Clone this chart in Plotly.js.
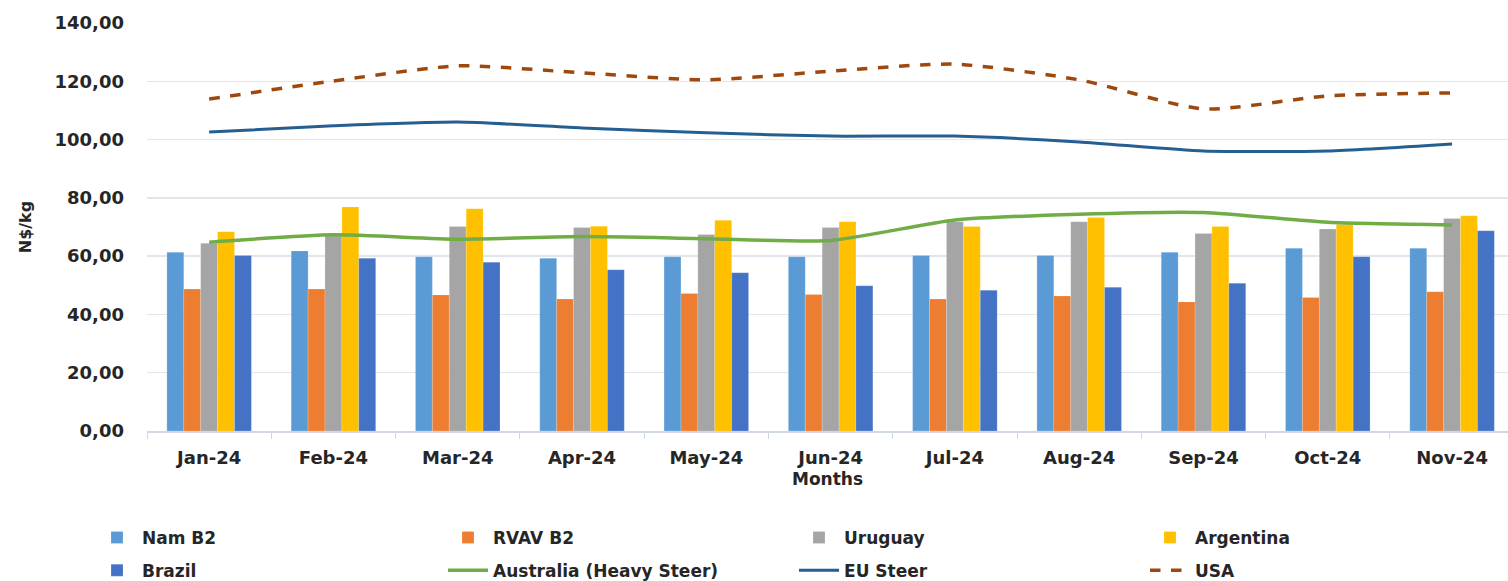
<!DOCTYPE html>
<html>
<head>
<meta charset="utf-8">
<script src="https://cdn.plot.ly/plotly-3.0.1.min.js"></script>
<style>html,body{margin:0;padding:0;background:#fff;}#chart{width:1508px;height:581px;}</style>
</head>
<body>
<div id="chart"></div>
<script>
const months = ["Jan-24","Feb-24","Mar-24","Apr-24","May-24","Jun-24","Jul-24","Aug-24","Sep-24","Oct-24","Nov-24"];
const namB2     = [61.3, 61.8, 59.8, 59.3, 59.8, 59.8, 60.2, 60.2, 61.3, 62.7, 62.7];
const rvavB2    = [48.7, 48.7, 46.7, 45.3, 47.2, 46.8, 45.3, 46.3, 44.3, 45.8, 47.8];
const uruguay   = [64.4, 67.0, 70.2, 69.8, 67.4, 69.8, 71.8, 71.8, 67.8, 69.3, 72.9];
const argentina = [68.4, 76.9, 76.3, 70.3, 72.3, 71.8, 70.2, 73.3, 70.2, 70.9, 73.9];
const brazil    = [60.2, 59.3, 57.9, 55.3, 54.3, 49.8, 48.3, 49.3, 50.7, 59.8, 68.7];
const australia = [64.8, 67.3, 65.8, 66.7, 66.0, 65.4, 72.4, 74.4, 75.0, 71.6, 70.7];
const euSteer   = [102.6, 104.7, 106.0, 104.0, 102.3, 101.2, 101.2, 99.2, 96.1, 96.1, 98.5];
const usa       = [113.9, 120.1, 125.3, 122.9, 120.5, 123.5, 125.9, 120.5, 110.5, 115.0, 116.0];
const yTicks = [0,20,40,60,80,100,120,140];
const yTickText = ["0,00","20,00","40,00","60,00","80,00","100,00","120,00","140,00"];

const FONT = "DejaVu Sans, Arial, sans-serif";
const TXT = "#262626";

function bar(name, y, color, leg) {
  return {type:"bar", name:name, x:months, y:y, legend:leg,
    marker:{color:color, line:{color:"rgba(255,255,255,0.35)", width:0.5}},
    hoverinfo:"y+name"};
}
function line(name, y, color, width, dash, leg) {
  return {type:"scatter", mode:"lines", name:name, x:months, y:y, legend:leg,
    line:{color:color, width:width, dash:dash, shape:"spline", smoothing:0.6}};
}

const data = [
  bar("Nam B2", namB2, "#5B9BD5", "legend"),
  bar("RVAV B2", rvavB2, "#ED7D31", "legend"),
  bar("Uruguay", uruguay, "#A5A5A5", "legend"),
  bar("Argentina", argentina, "#FFC000", "legend"),
  bar("Brazil", brazil, "#4472C4", "legend2"),
  line("Australia (Heavy Steer)", australia, "#70AD47", 3.5, "solid", "legend2"),
  line("EU Steer", euSteer, "#255E91", 3, "solid", "legend2"),
  line("USA", usa, "#9E480E", 3.5, "dash", "legend2")
];

const legFont = {family:FONT, size:17, color:TXT, weight:"bold"};
const layout = {
  width:1508, height:581,
  margin:{l:147, r:0, t:23, b:150, autoexpand:false},
  paper_bgcolor:"#ffffff", plot_bgcolor:"#ffffff",
  barmode:"group", bargap:0.32, bargroupgap:0,
  font:{family:FONT, color:TXT},
  showlegend:true,
  xaxis:{
    type:"category", range:[-0.5, 10.45],
    tickfont:{family:FONT, size:18, color:TXT, weight:"bold"},
    ticks:"outside", tickson:"boundaries", ticklen:6, tickcolor:"#d0d7e0",
    ticklabelstandoff:10,
    showline:true, linecolor:"#d0d7e0", linewidth:1.5,
    showgrid:false, zeroline:false,
    title:{text:"Months", font:{family:FONT, size:17, color:TXT, weight:"bold"}, standoff:6}
  },
  yaxis:{
    range:[0,140], tickvals:yTicks, ticktext:yTickText,
    tickfont:{family:FONT, size:18, color:TXT, weight:"bold"},
    showgrid:true, gridcolor:"#e1e6ee", gridwidth:1.3,
    zeroline:false, showline:false, ticks:"", ticklabelstandoff:22,
    title:{text:"N$/kg", font:{family:FONT, size:16, color:TXT, weight:"bold"}, standoff:18}
  },
  legend:{orientation:"h", x:-0.0404, xanchor:"left", y:-0.218, yanchor:"top",
    entrywidth:296, entrywidthmode:"pixels", font:legFont, traceorder:"normal", itemwidth:40},
  legend2:{orientation:"h", x:-0.0404, xanchor:"left", y:-0.298, yanchor:"top",
    entrywidth:296, entrywidthmode:"pixels", font:legFont, traceorder:"normal", itemwidth:40}
};

Plotly.newPlot("chart", data, layout, {displayModeBar:false, staticPlot:true});
</script>
</body>
</html>
